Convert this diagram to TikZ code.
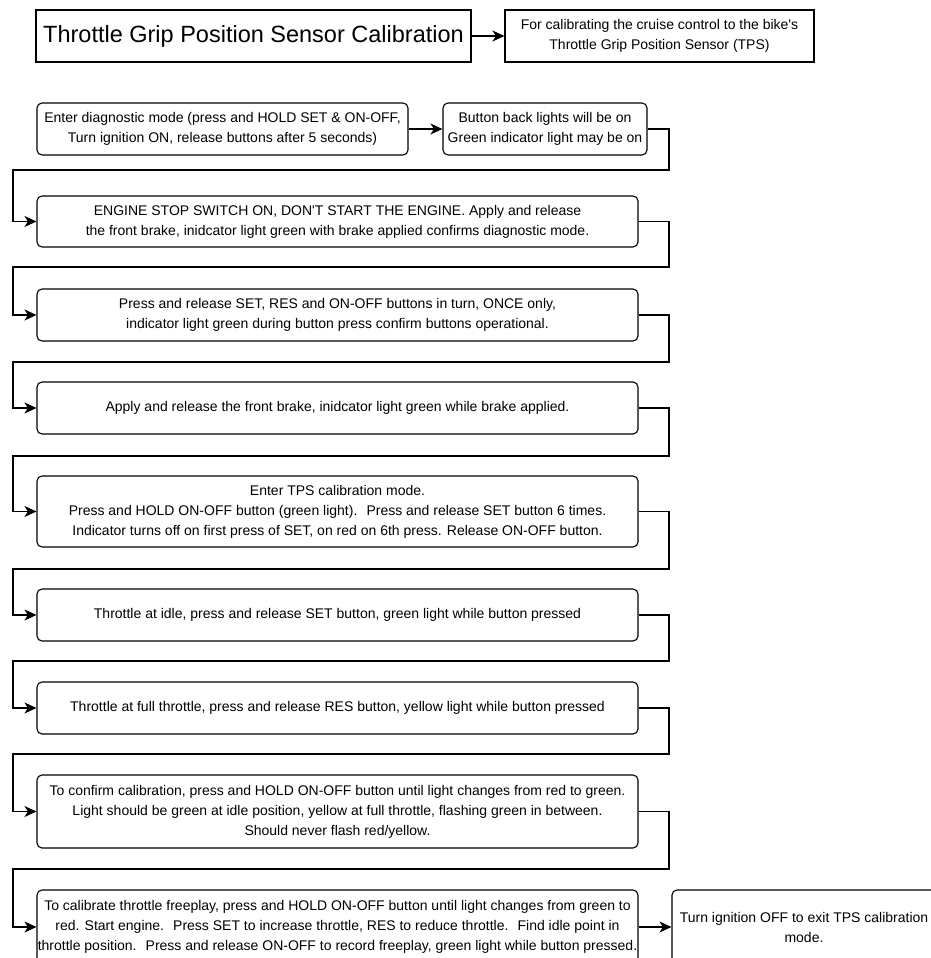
\documentclass[tikz,border=0pt]{standalone}
\usepackage{fontspec}
\setmainfont{Liberation Sans}[Ligatures=TeXOff]
\usetikzlibrary{arrows.meta}
\begin{document}
\begin{tikzpicture}[x=1pt,y=-1pt,
  box/.style={draw=black, line width=1.1pt, fill=white, inner sep=0pt, align=center,
    font=\fontsize{14}{20}\selectfont},
  rbox/.style={box, rounded corners=5pt},
  conn/.style={draw=black, line width=1.1pt, -{Stealth[length=12pt,width=11pt,inset=3.5pt]}}]
\clip (0,0) rectangle (931,958);
\fill[white] (0,0) rectangle (931,958);
% header
\node[box, minimum width=435pt, minimum height=52pt, font=\fontsize{23.5}{28}\selectfont] (title) at (253.5,36) {Throttle Grip Position Sensor Calibration};
\node[box, minimum width=309pt, minimum height=52pt] (tps) at (659.5,36) {For calibrating the cruise control to the bike's\\Throttle Grip Position Sensor (TPS)};
% steps
\node[rbox, minimum width=371pt, minimum height=52pt] (b1) at (222.5,129) {Enter diagnostic mode (press and HOLD SET \& ON-OFF,\\Turn ignition ON, release buttons after 5 seconds)};
\node[rbox, minimum width=204pt, minimum height=52pt] (b2) at (545,129) {Button back lights will be on\\Green indicator light may be on};
\node[rbox, minimum width=601pt, minimum height=51pt] (b3) at (337.5,221.5) {ENGINE STOP SWITCH ON, DON'T START THE ENGINE. Apply and release\\the front brake, inidcator light green with brake applied confirms diagnostic mode.};
\node[rbox, minimum width=601pt, minimum height=52pt] (b4) at (337.5,315) {Press and release SET, RES and ON-OFF buttons in turn, ONCE only,\\indicator light green during button press confirm buttons operational.};
\node[rbox, minimum width=601pt, minimum height=52pt] (b5) at (337.5,408) {Apply and release the front brake, inidcator light green while brake applied.};
\node[rbox, minimum width=601pt, minimum height=71pt] (b6) at (337.5,511.5) {Enter TPS calibration mode.\\Press and HOLD ON-OFF button (green light).~ Press and release SET button 6 times.\\Indicator turns off on first press of SET, on red on 6th press. Release ON-OFF button.};
\node[rbox, minimum width=601pt, minimum height=52pt] (b7) at (337.5,615) {Throttle at idle, press and release SET button, green light while button pressed};
\node[rbox, minimum width=601pt, minimum height=52pt] (b8) at (337.5,708) {Throttle at full throttle, press and release RES button, yellow light while button pressed};
\node[rbox, minimum width=601pt, minimum height=73pt] (b9) at (337.5,811.5) {To confirm calibration, press and HOLD ON-OFF button until light changes from red to green.\\Light should be green at idle position, yellow at full throttle, flashing green in between.\\Should never flash red/yellow.};
\node[rbox, minimum width=601pt, minimum height=74pt] (b10) at (337.5,927) {To calibrate throttle freeplay, press and HOLD ON-OFF button until light changes from green to\\red. Start engine.~ Press SET to increase throttle, RES to reduce throttle.~ Find idle point in\\throttle position.~ Press and release ON-OFF to record freeplay, green light while button pressed.};
\node[rbox, minimum width=264pt, minimum height=74pt] (b11) at (804,927) {Turn ignition OFF to exit TPS calibration\\mode.};
% connectors
\draw[conn] (title.east) -- (tps.west);
\draw[conn] (b1.east) -- (b2.west);
\draw[conn] (b2.east) -| (669,170) -| (13,221.5) -- (b3.west);
\draw[conn] (b3.east) -| (669,267) -| (13,315) -- (b4.west);
\draw[conn] (b4.east) -| (669,362) -| (13,408) -- (b5.west);
\draw[conn] (b5.east) -| (669,456) -| (13,511.5) -- (b6.west);
\draw[conn] (b6.east) -| (669,569) -| (13,615) -- (b7.west);
\draw[conn] (b7.east) -| (669,661) -| (13,708) -- (b8.west);
\draw[conn] (b8.east) -| (669,754) -| (13,811.5) -- (b9.west);
\draw[conn] (b9.east) -| (669,869) -| (13,927) -- (b10.west);
\draw[conn] (b10.east) -- (b11.west);
\end{tikzpicture}
\end{document}
